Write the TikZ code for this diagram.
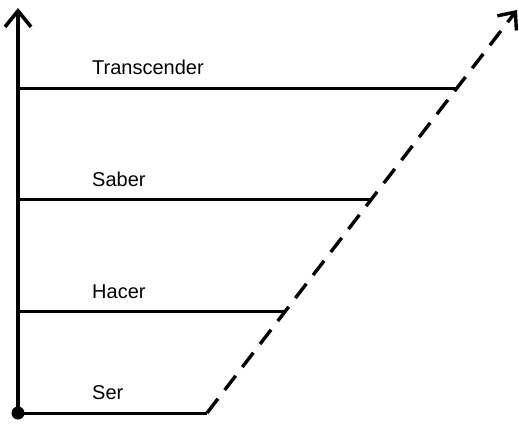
\documentclass[tikz,border=0pt]{standalone}
\usepackage{fontspec}
\setmainfont{Liberation Sans}
\usetikzlibrary{arrows.meta}

\begin{document}
\begin{tikzpicture}[x=1pt, y=-1pt,
    level/.style={line width=3pt},
    axis/.style={line width=3.6pt, -{Straight Barb[length=16pt, width=26pt]}},
    growth/.style={line width=3.4pt, dash pattern=on 18pt off 11pt, -{Straight Barb[length=14pt, width=24pt]}},
    lab/.style={anchor=base west, inner sep=0pt, font=\fontsize{20}{20}\selectfont},
]
    \useasboundingbox (0,0) rectangle (519,425);

    % Points
    \coordinate (O)   at (18,413);
    \coordinate (Top) at (18,8);
    \coordinate (Ser1)  at (207,413);
    \coordinate (Hac0)  at (18,311);
    \coordinate (Hac1)  at (286,311);
    \coordinate (Sab0)  at (18,199);
    \coordinate (Sab1)  at (372,199);
    \coordinate (Tra0)  at (18,89);
    \coordinate (Tra1)  at (457,89);
    \coordinate (End)   at (517,10);

    % Labels
    \node[lab] (Ser) at (92,399) {Ser};
    \node[lab] (Hac) at (92,298) {Hacer};
    \node[lab] (Sab) at (92,186) {Saber};
    \node[lab] (Tra) at (92,75)  {Transcender};

    % Lines
    \draw[axis] (O) -- (Top);
    \draw[level] (O) -- (Ser1);
    \draw[level] (Hac0) -- (Hac1);
    \draw[level] (Sab0) -- (Sab1);
    \draw[level] (Tra0) -- (Tra1);
    \draw[growth] (Ser1) -- (End);
    \node[circle, fill, inner sep=0pt, minimum size=13pt] (dot) at (O) {};
\end{tikzpicture}
\end{document}
